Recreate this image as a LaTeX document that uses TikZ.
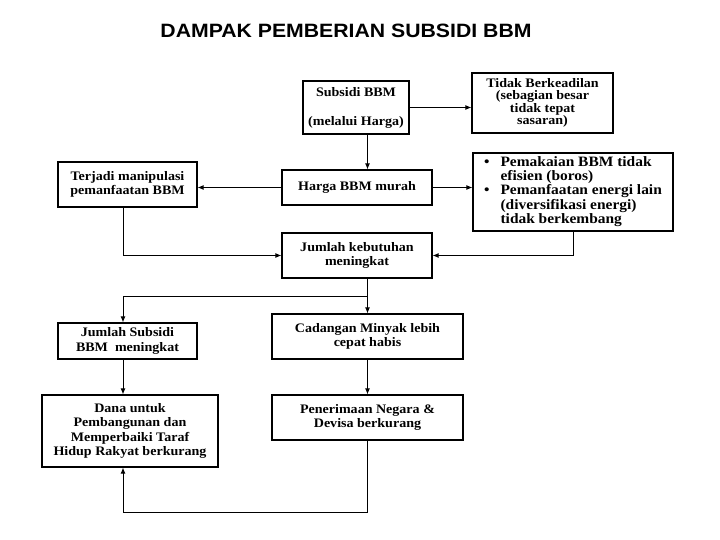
\documentclass[tikz,border=0pt]{standalone}
\usepackage{fontspec}
\setmainfont{Liberation Serif}[FakeStretch=1.08]
\newfontfamily\titlefont{Liberation Sans}[FakeStretch=1.1]
\usepackage{tikz}
\usetikzlibrary{arrows.meta,positioning}

\tikzset{
  box/.style={draw, line width=1.2pt, align=center, inner sep=2pt,
    font=\bfseries\fontsize{13}{14.5}\selectfont},
  link/.style={->, >={Latex[length=6pt,width=5pt]}, line width=0.9pt}
}

\begin{document}
\begin{tikzpicture}[x=1pt, y=-1pt]
  \useasboundingbox (0,0) rectangle (720,540);
  \node[font=\titlefont\bfseries\fontsize{19.3}{22}\selectfont] (title) at (346,31) {DAMPAK PEMBERIAN SUBSIDI BBM};

  \coordinate (lcol) at (123,0);
  \coordinate (spine) at (367.5,0);
  \coordinate (fork) at (367.5,296);
  \coordinate (base) at (0,512);

  \node[box, minimum width=106pt, minimum height=53pt] (sub) at (356,107.5) {Subsidi BBM\\[14.5pt](melalui Harga)};
  \node[box, minimum width=141pt, minimum height=60pt, font=\bfseries\fontsize{13}{12.3}\selectfont] (tidak) at (542.5,103) {Tidak Berkeadilan\\(sebagian besar\\tidak tepat\\sasaran)};
  \node[box, minimum width=150pt, minimum height=35pt] (harga) at (357,187.5) {Harga BBM murah};
  \node[box, minimum width=139pt, minimum height=45pt] (terjadi) at (127.5,184.5) {Terjadi manipulasi\\pemanfaatan BBM};
  \node[box, minimum width=200pt, minimum height=78pt, font=\bfseries\fontsize{14.3}{14}\selectfont] (peng) at (573,192) {%
    \begin{tabular}{@{}l@{\hspace{11pt}}l@{}}
      \textbullet & Pemakaian BBM tidak\\
                  & efisien (boros)\\
      \textbullet & Pemanfaatan energi lain\\
                  & (diversifikasi energi)\\
                  & tidak berkembang
    \end{tabular}};
  \node[box, minimum width=150pt, minimum height=45pt] (jkeb) at (357,255.5) {Jumlah kebutuhan\\meningkat};
  \node[box, minimum width=139pt, minimum height=36pt] (jsub) at (127.5,341) {Jumlah Subsidi\\BBM~ meningkat};
  \node[box, minimum width=191pt, minimum height=45pt] (cad) at (367.5,336.5) {Cadangan Minyak lebih\\cepat habis};
  \node[box, minimum width=176pt, minimum height=72pt] (dana) at (130,431) {Dana untuk\\Pembangunan dan\\Memperbaiki Taraf\\Hidup Rakyat berkurang};
  \node[box, minimum width=191pt, minimum height=45pt] (pen) at (367.5,417.5) {Penerimaan Negara \&\\Devisa berkurang};

  \draw[link] (sub.east) -- (sub.east -| tidak.west);
  \draw[link] (sub.south -| spine) -- (harga.north -| spine);
  \draw[link] (harga.west) -- (harga.west -| terjadi.east);
  \draw[link] (harga.east) -- (harga.east -| peng.west);
  \draw[link] (terjadi.south -| lcol) |- (jkeb.west);
  \draw[link] (peng.south) |- (jkeb.east);
  \draw[link] (jkeb.south -| spine) -- (fork) -| (jsub.north -| lcol);
  \draw[link] (fork) -- (cad.north);
  \draw[link] (jsub.south -| lcol) -- (dana.north -| lcol);
  \draw[link] (cad.south) -- (pen.north);
  \draw[link] (pen.south) -- (pen.south |- base) -| (dana.south -| lcol);
\end{tikzpicture}
\end{document}
